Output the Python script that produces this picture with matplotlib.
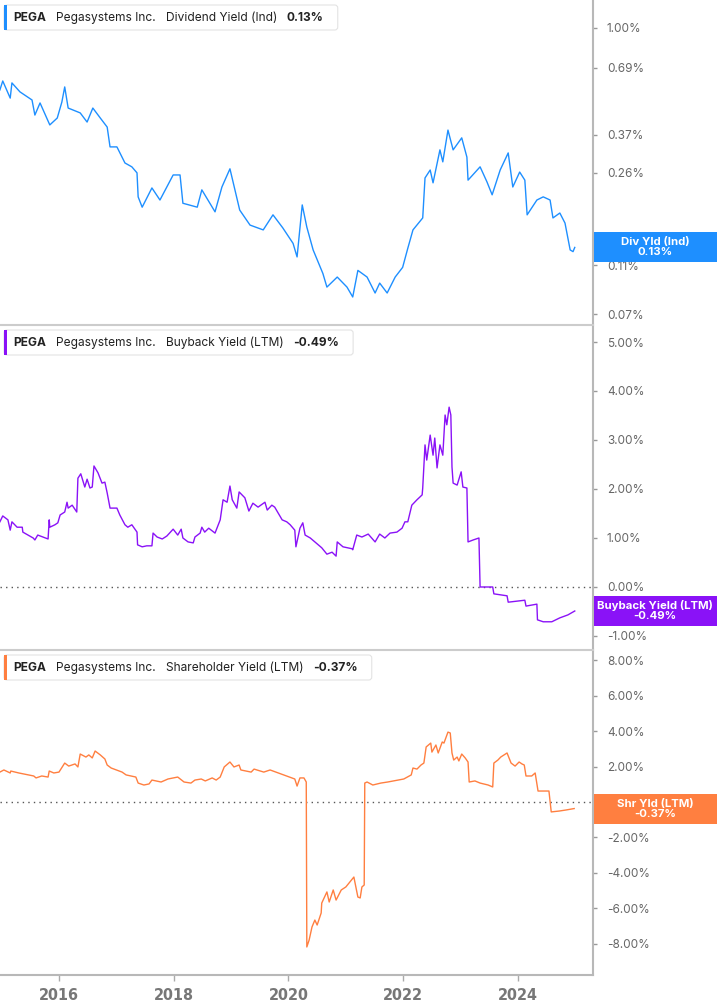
import matplotlib
matplotlib.use("Agg")
import matplotlib.pyplot as plt
from matplotlib.patches import Rectangle, FancyBboxPatch
from matplotlib.ticker import FixedLocator, FuncFormatter, NullLocator
from matplotlib.transforms import IdentityTransform

W, H = 717, 1005
PLOT_RIGHT = 593
PANEL_H = 325

# Dividend Yield (Ind), in %
div_years = [2014.97, 2015.02, 2015.15, 2015.18, 2015.32, 2015.53, 2015.58, 2015.67, 2015.84, 2015.97,
             2016.05, 2016.10, 2016.16, 2016.37, 2016.49, 2016.59, 2016.72, 2016.84, 2016.89, 2017.01,
             2017.15, 2017.27, 2017.36, 2017.38, 2017.45, 2017.62, 2017.76, 2017.99, 2018.11, 2018.16,
             2018.41, 2018.49, 2018.72, 2018.84, 2018.98, 2019.15, 2019.33, 2019.56, 2019.73, 2019.90,
             2020.08, 2020.15, 2020.24, 2020.32, 2020.43, 2020.60, 2020.67, 2020.85, 2021.02, 2021.12,
             2021.21, 2021.37, 2021.51, 2021.59, 2021.72, 2021.86, 2021.99, 2022.08, 2022.17, 2022.34,
             2022.38, 2022.47, 2022.52, 2022.64, 2022.69, 2022.78, 2022.87, 2023.02, 2023.11, 2023.13,
             2023.34, 2023.46, 2023.55, 2023.69, 2023.83, 2023.91, 2024.03, 2024.12, 2024.16, 2024.33,
             2024.44, 2024.56, 2024.61, 2024.73, 2024.82, 2024.91, 2024.96, 2024.99]
div_values = [0.562, 0.611, 0.521, 0.600, 0.552, 0.512, 0.445, 0.498, 0.406, 0.433,
              0.502, 0.578, 0.475, 0.454, 0.417, 0.475, 0.433, 0.398, 0.331, 0.331,
              0.285, 0.275, 0.260, 0.208, 0.189, 0.226, 0.202, 0.255, 0.255, 0.196,
              0.189, 0.222, 0.181, 0.228, 0.270, 0.184, 0.160, 0.153, 0.176, 0.156,
              0.135, 0.119, 0.193, 0.157, 0.127, 0.102, 0.0899, 0.0987, 0.0899, 0.0820,
              0.105, 0.0987, 0.0851, 0.0933, 0.0851, 0.0987, 0.108, 0.129, 0.153, 0.171,
              0.248, 0.267, 0.237, 0.322, 0.288, 0.387, 0.322, 0.360, 0.301, 0.243,
              0.275, 0.239, 0.212, 0.267, 0.313, 0.228, 0.262, 0.243, 0.176, 0.202,
              0.208, 0.202, 0.171, 0.179, 0.163, 0.127, 0.125, 0.130]

# Buyback Yield (LTM), in %
bb_years = [2014.97, 2015.02, 2015.11, 2015.15, 2015.18, 2015.27, 2015.36, 2015.37, 2015.46, 2015.55,
            2015.58, 2015.63, 2015.72, 2015.81, 2015.83, 2015.84, 2015.93, 2015.98, 2016.02, 2016.10,
            2016.14, 2016.16, 2016.23, 2016.31, 2016.33, 2016.38, 2016.45, 2016.49, 2016.54, 2016.58,
            2016.61, 2016.68, 2016.75, 2016.80, 2016.84, 2016.89, 2017.01, 2017.06, 2017.15, 2017.20,
            2017.27, 2017.36, 2017.37, 2017.45, 2017.53, 2017.62, 2017.64, 2017.71, 2017.80, 2017.88,
            2017.99, 2018.07, 2018.13, 2018.16, 2018.25, 2018.34, 2018.37, 2018.46, 2018.49, 2018.54,
            2018.61, 2018.72, 2018.81, 2018.86, 2018.93, 2018.98, 2019.02, 2019.10, 2019.14, 2019.24,
            2019.31, 2019.38, 2019.47, 2019.59, 2019.63, 2019.71, 2019.76, 2019.82, 2019.89, 2019.97,
            2020.03, 2020.11, 2020.13, 2020.20, 2020.25, 2020.29, 2020.38, 2020.46, 2020.58, 2020.67,
            2020.76, 2020.83, 2020.85, 2020.95, 2021.11, 2021.12, 2021.19, 2021.28, 2021.39, 2021.51,
            2021.59, 2021.68, 2021.77, 2021.89, 2021.98, 2022.03, 2022.08, 2022.15, 2022.24, 2022.33,
            2022.34, 2022.38, 2022.41, 2022.47, 2022.52, 2022.55, 2022.59, 2022.64, 2022.69, 2022.73,
            2022.76, 2022.80, 2022.83, 2022.85, 2022.87, 2022.94, 2023.01, 2023.04, 2023.11, 2023.13,
            2023.22, 2023.32, 2023.34, 2023.56, 2023.58, 2023.81, 2023.83, 2024.12, 2024.14, 2024.33,
            2024.34, 2024.44, 2024.59, 2024.73, 2024.87, 2024.96, 2024.99]
bb_values = [1.33, 1.45, 1.37, 1.16, 1.33, 1.22, 1.22, 1.12, 1.06, 1.00,
             0.96, 1.06, 1.02, 0.98, 1.37, 1.22, 1.27, 1.31, 1.47, 1.53,
             1.73, 1.61, 1.67, 1.53, 2.22, 2.31, 2.04, 2.20, 2.02, 2.04,
             2.47, 2.33, 2.12, 2.14, 1.92, 1.61, 1.61, 1.47, 1.27, 1.22,
             1.27, 1.12, 0.86, 0.82, 0.84, 0.84, 1.10, 1.02, 0.98, 1.04,
             1.18, 1.06, 1.18, 1.00, 0.92, 0.90, 1.02, 1.10, 1.22, 1.12,
             1.20, 1.10, 1.37, 1.78, 1.73, 2.06, 1.78, 1.61, 1.94, 1.82,
             1.55, 1.71, 1.63, 1.73, 1.57, 1.67, 1.63, 1.51, 1.37, 1.33,
             1.27, 1.16, 0.82, 1.20, 1.31, 1.06, 1.00, 0.92, 0.80, 0.67,
             0.71, 0.63, 0.92, 0.82, 0.78, 0.76, 1.06, 1.02, 1.08, 0.92,
             1.08, 1.00, 1.10, 1.12, 1.20, 1.33, 1.33, 1.67, 1.78, 1.88,
             2.02, 2.90, 2.59, 3.10, 2.69, 3.04, 2.43, 2.90, 2.69, 3.51,
             3.31, 3.67, 3.51, 2.45, 2.12, 2.08, 2.35, 2.04, 2.02, 0.92,
             0.96, 1.00, 0.00, 0.00, -0.14, -0.18, -0.31, -0.27, -0.39, -0.35,
             -0.67, -0.71, -0.71, -0.63, -0.57, -0.51, -0.49]

# Shareholder Yield (LTM), in %
shr_years = [2014.97, 2015.04, 2015.15, 2015.16, 2015.30, 2015.56, 2015.60, 2015.70, 2015.81, 2015.83,
             2015.91, 2016.00, 2016.10, 2016.17, 2016.28, 2016.33, 2016.37, 2016.47, 2016.52, 2016.58,
             2016.63, 2016.72, 2016.80, 2016.84, 2016.91, 2017.10, 2017.17, 2017.34, 2017.38, 2017.48,
             2017.57, 2017.62, 2017.78, 2017.90, 2018.07, 2018.18, 2018.30, 2018.37, 2018.48, 2018.55,
             2018.67, 2018.74, 2018.81, 2018.88, 2018.98, 2019.05, 2019.14, 2019.17, 2019.35, 2019.40,
             2019.57, 2019.68, 2019.78, 2019.87, 2020.01, 2020.11, 2020.15, 2020.20, 2020.27, 2020.31,
             2020.32, 2020.36, 2020.41, 2020.46, 2020.50, 2020.57, 2020.58, 2020.67, 2020.71, 2020.78,
             2020.83, 2020.92, 2021.00, 2021.07, 2021.14, 2021.21, 2021.25, 2021.28, 2021.32, 2021.33,
             2021.37, 2021.47, 2021.61, 2021.73, 2021.91, 2022.01, 2022.14, 2022.17, 2022.24, 2022.31,
             2022.36, 2022.40, 2022.48, 2022.50, 2022.57, 2022.61, 2022.68, 2022.71, 2022.78, 2022.82,
             2022.85, 2022.88, 2022.94, 2022.97, 2023.02, 2023.08, 2023.13, 2023.15, 2023.25, 2023.34,
             2023.48, 2023.56, 2023.58, 2023.65, 2023.70, 2023.81, 2023.88, 2023.95, 2024.02, 2024.07,
             2024.11, 2024.14, 2024.24, 2024.30, 2024.35, 2024.54, 2024.58, 2024.72, 2024.84, 2024.98]
shr_values = [1.69, 1.81, 1.64, 1.75, 1.64, 1.47, 1.36, 1.47, 1.41, 1.75,
              1.64, 1.69, 2.20, 2.03, 2.15, 1.98, 2.71, 2.54, 2.66, 2.49,
              2.88, 2.66, 2.43, 2.09, 1.92, 1.69, 1.53, 1.41, 1.07, 0.96,
              1.02, 1.24, 1.13, 1.30, 1.41, 1.13, 1.07, 1.24, 1.30, 1.19,
              1.36, 1.24, 1.41, 1.98, 2.26, 1.98, 2.09, 1.81, 1.69, 1.86,
              1.69, 1.81, 1.69, 1.58, 1.41, 1.30, 0.90, 1.36, 1.36, 1.13,
              -8.19, -7.80, -7.06, -6.67, -6.95, -6.27, -5.71, -5.08, -5.65, -4.97,
              -5.54, -4.97, -4.80, -4.52, -4.24, -5.37, -5.42, -4.80, -4.69, 1.07,
              1.13, 0.96, 1.07, 1.13, 1.24, 1.30, 1.53, 1.92, 1.86, 2.09,
              2.20, 3.11, 3.33, 2.82, 3.22, 2.77, 3.39, 3.33, 3.95, 3.90,
              2.77, 2.37, 2.54, 2.32, 2.71, 2.49, 2.26, 1.13, 1.19, 1.07,
              0.96, 0.85, 2.20, 2.37, 2.54, 2.77, 2.20, 2.03, 2.26, 2.15,
              2.09, 1.47, 1.47, 1.64, 0.62, 0.62, -0.56, -0.51, -0.45, -0.37]

x_ticks = [2016, 2018, 2020, 2022, 2024]
x_range = (2014.972, 2025.308)
div_ticks = [0.07, 0.11, 0.14, 0.26, 0.37, 0.69, 1.00]
bb_ticks = [-1, 0, 1, 2, 3, 4, 5]
shr_ticks = [-8, -6, -4, -2, 0, 2, 4, 6, 8]

ticker_name = "PEGA"
company = "Pegasystems Inc."

TXT_FONT = ["Inter", "DejaVu Sans"]
AXIS_FONT = ["Liberation Sans Narrow", "DejaVu Sans"]

panels = [
    dict(years=div_years, values=div_values, ticks=div_ticks, ylim=(0.0632, 1.297), log=True,
         color="#1E8FFF", metric="Dividend Yield (Ind)", short="Div Yld (Ind)"),
    dict(years=bb_years, values=bb_values, ticks=bb_ticks, ylim=(-1.286, 5.347), log=False,
         color="#8A12F7", metric="Buyback Yield (LTM)", short="Buyback Yield (LTM)"),
    dict(years=shr_years, values=shr_values, ticks=shr_ticks, ylim=(-9.774, 8.588), log=False,
         color="#FF7F40", metric="Shareholder Yield (LTM)", short="Shr Yld (LTM)"),
]

fig = plt.figure(figsize=(W / 100, H / 100), dpi=100)
renderer = fig.canvas.get_renderer()
px = IdentityTransform()

axes = []
for i, p in enumerate(panels):
    top = i * PANEL_H
    rect = [0, 1 - (top + PANEL_H) / H, PLOT_RIGHT / W, PANEL_H / H]
    ax = fig.add_axes(rect, sharex=axes[0] if axes else None)
    axes.append(ax)

    ax.plot(p["years"], p["values"], color=p["color"], lw=1.0, solid_joinstyle="round")
    if p["log"]:
        ax.set_yscale("log")
    else:
        ax.axhline(0, color="#555555", lw=1.0, ls=(0, (1, 3)), zorder=1)
    ax.set_ylim(*p["ylim"])
    ax.set_xlim(*x_range)

    ax.yaxis.set_major_locator(FixedLocator(p["ticks"]))
    ax.yaxis.set_minor_locator(NullLocator())
    ax.yaxis.set_major_formatter(FuncFormatter(lambda v, pos: f"{v:.2f}%"))
    ax.yaxis.tick_right()
    ax.tick_params(axis="y", direction="out", length=3, width=1, color="#999999",
                   pad=7, labelsize=8.5, labelcolor="#666666")
    for lab in ax.get_yticklabels():
        lab.set_family(TXT_FONT)

    ax.spines["left"].set_visible(False)
    ax.spines["right"].set_color("#b8b8b8")
    ax.spines["right"].set_linewidth(1.5)
    ax.spines["top"].set_visible(i > 0)
    ax.spines["top"].set_color("#cccccc")
    ax.spines["top"].set_linewidth(1.5)
    ax.spines["bottom"].set_visible(i == len(panels) - 1)
    ax.spines["bottom"].set_color("#b8b8b8")
    ax.spines["bottom"].set_linewidth(1.5)

    if i == len(panels) - 1:
        ax.xaxis.set_major_locator(FixedLocator(x_ticks))
        ax.xaxis.set_minor_locator(NullLocator())
        ax.xaxis.set_major_formatter(FuncFormatter(lambda v, pos: f"{v:.0f}"))
        ax.tick_params(axis="x", direction="out", length=4, width=1, color="#aaaaaa",
                       pad=5, labelsize=11.5, labelcolor="#777777")
        for lab in ax.get_xticklabels():
            lab.set_family(AXIS_FONT)
            lab.set_stretch("condensed")
            lab.set_weight("bold")
    else:
        ax.tick_params(axis="x", length=0, labelbottom=False)

# legend boxes at the top left of each panel
for i, p in enumerate(panels):
    top = i * PANEL_H
    yc = H - (top + 17.5)
    parts = [(ticker_name, "bold"), (company, "normal"), (p["metric"], "normal"),
             (f"{p['values'][-1]:.2f}%", "bold")]
    x = 13
    for txt, weight in parts:
        t = fig.text(x, yc, txt, transform=px, fontsize=8.6, fontweight=weight, color="#222222",
                     va="center", ha="left", family=TXT_FONT, zorder=6)
        bb = t.get_window_extent(renderer)
        x = bb.x1 + 10
    box = FancyBboxPatch((4, H - (top + 30)), x + 4 - 4, 25,
                         boxstyle="round,pad=0,rounding_size=3", transform=px,
                         fc="white", ec="#e3e3e3", lw=0.8, zorder=5)
    fig.add_artist(box)
    bar = Rectangle((4, H - (top + 30)), 3, 25, transform=px, fc=p["color"], ec="none", zorder=5.5)
    fig.add_artist(bar)

# last value tags on the right axis
for ax, p in zip(axes, panels):
    _, ypix = ax.transData.transform((p["years"][-1], p["values"][-1]))
    tag = Rectangle((PLOT_RIGHT + 1, ypix - 15), W - PLOT_RIGHT, 30, transform=px,
                    fc=p["color"], ec="none", zorder=7)
    fig.add_artist(tag)
    fig.text((PLOT_RIGHT + W) / 2, ypix, f"{p['short']}\n{p['values'][-1]:.2f}%", transform=px,
             ha="center", va="center", fontsize=8.2, fontweight="bold", color="white",
             linespacing=1.0, family=TXT_FONT, zorder=8)

fig.savefig("out.png", dpi=100)
